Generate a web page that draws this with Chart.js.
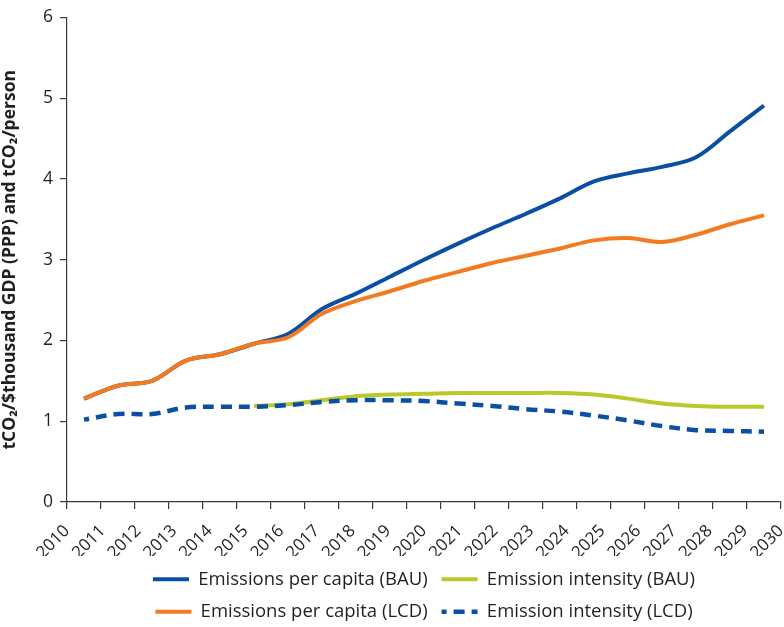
<!DOCTYPE html>
<html>
<head>
<meta charset="utf-8">
<script src="https://cdn.jsdelivr.net/npm/chart.js@4.4.1/dist/chart.umd.min.js"></script>
<style>
  html, body { margin: 0; padding: 0; background: #fff; }
  #wrap { width: 784px; height: 627px; }
</style>
</head>
<body>
<div id="wrap"><canvas id="co2Chart" width="784" height="627"></canvas></div>
<script>
// Years shown on the horizontal axis
const years = [2010, 2011, 2012, 2013, 2014, 2015, 2016, 2017, 2018, 2019, 2020,
               2021, 2022, 2023, 2024, 2025, 2026, 2027, 2028, 2029, 2030];

// tCO2/person
const perCapitaBAU = [1.28, 1.44, 1.50, 1.75, 1.83, 1.96, 2.08, 2.39, 2.58, 2.79, 3.00,
                      3.20, 3.39, 3.57, 3.76, 3.97, 4.07, 4.15, 4.27, 4.59, 4.91];
const perCapitaLCD = [1.28, 1.44, 1.50, 1.75, 1.83, 1.96, 2.04, 2.33, 2.49, 2.61, 2.74,
                      2.85, 2.96, 3.05, 3.14, 3.24, 3.27, 3.22, 3.31, 3.44, 3.55];

// tCO2/$thousand GDP (PPP)
const intensityBAU = [null, null, null, null, null, 1.19, 1.21, 1.26, 1.31, 1.33, 1.34,
                      1.35, 1.35, 1.35, 1.35, 1.33, 1.28, 1.22, 1.19, 1.18, 1.18];
const intensityLCD = [1.02, 1.09, 1.09, 1.17, 1.18, 1.18, 1.20, 1.24, 1.26, 1.26, 1.25,
                      1.22, 1.19, 1.15, 1.12, 1.07, 1.01, 0.94, 0.89, 0.88, 0.87];

const yTicks = [0, 1, 2, 3, 4, 5, 6];

const BLUE = '#0a4fa3';
const ORANGE = '#f47a20';
const GREEN = '#b9c92b';
const INK = '#231f20';
const AXIS = '#3a3a3a';
const FONT = "'Open Sans', 'Noto Sans', sans-serif";

// LCD series are listed first so they sit on top of the BAU lines;
// the legend is re-sorted to read BAU / LCD row by row.
const legendRank = [2, 3, 0, 1];

const ctx = document.getElementById('co2Chart').getContext('2d');
const chart = new Chart(ctx, {
    type: 'line',
    data: {
        labels: years,
        datasets: [
            { label: 'Emissions per capita (LCD)', data: perCapitaLCD, borderColor: ORANGE, backgroundColor: ORANGE, borderWidth: 4 },
            { label: 'Emission intensity (LCD)', data: intensityLCD, borderColor: BLUE, backgroundColor: BLUE, borderWidth: 4.5, borderDash: [11, 7], borderDashOffset: 6 },
            { label: 'Emissions per capita (BAU)', data: perCapitaBAU, borderColor: BLUE, backgroundColor: BLUE, borderWidth: 4 },
            { label: 'Emission intensity (BAU)', data: intensityBAU, borderColor: GREEN, backgroundColor: GREEN, borderWidth: 4 }
        ]
    },
    options: {
        responsive: false,
        animation: false,
        devicePixelRatio: 1,
        layout: { padding: { top: 8, right: 3, bottom: -4, left: 0 } },
        elements: {
            point: { radius: 0 },
            line: { tension: 0.35, borderCapStyle: 'butt', fill: false }
        },
        scales: {
            x: {
                type: 'category',
                offset: true,
                grid: { display: true, offset: true, drawOnChartArea: false, drawTicks: true, tickLength: 7, color: AXIS, lineWidth: 1.2 },
                border: { display: true, color: AXIS, width: 1.2 },
                ticks: { display: false }
            },
            // year labels spread over the full axis length
            xYears: {
                type: 'linear',
                position: 'bottom',
                min: years[0],
                max: years[years.length - 1],
                grid: { display: false, drawTicks: false },
                border: { display: false },
                afterBuildTicks: (axis) => { axis.ticks = years.map(v => ({ value: v })); },
                afterFit: (axis) => { axis.height = 47; axis.paddingRight = 0; },
                ticks: {
                    autoSkip: false,
                    minRotation: 45,
                    maxRotation: 45,
                    padding: 12,
                    color: INK,
                    font: { family: FONT, size: 17 },
                    callback: (v) => String(v)
                }
            },
            y: {
                min: 0,
                max: 6,
                afterBuildTicks: (axis) => { axis.ticks = yTicks.map(v => ({ value: v })); },
                afterFit: (axis) => { axis.width = 67; },
                grid: { display: true, drawOnChartArea: false, drawTicks: true, tickLength: 7, color: AXIS, lineWidth: 1.2 },
                border: { display: true, color: AXIS, width: 1.2 },
                ticks: { padding: 7, color: INK, font: { family: FONT, size: 17.5 } },
                title: {
                    display: true,
                    text: 'tCO₂/$thousand GDP (PPP) and tCO₂/person',
                    color: INK,
                    font: { family: FONT, size: 17.5, weight: 'bold' },
                    padding: 0
                }
            }
        },
        plugins: {
            tooltip: { enabled: false },
            legend: {
                position: 'bottom',
                fullSize: false,
                align: 'center',
                labels: {
                    usePointStyle: true,
                    pointStyle: 'line',
                    pointStyleWidth: 36,
                    padding: 14,
                    color: INK,
                    font: { family: FONT, size: 18.5 },
                    generateLabels: (c) => {
                        const items = Chart.defaults.plugins.legend.labels.generateLabels(c);
                        items.forEach(item => {
                            const ds = c.data.datasets[item.datasetIndex];
                            item.lineWidth = ds.borderWidth;
                            item.lineDash = ds.borderDash || [];
                            item.lineDashOffset = ds.borderDashOffset || 0;
                        });
                        return items;
                    },
                    sort: (a, b) => legendRank[a.datasetIndex] - legendRank[b.datasetIndex]
                }
            }
        }
    }
});
</script>
</body>
</html>
